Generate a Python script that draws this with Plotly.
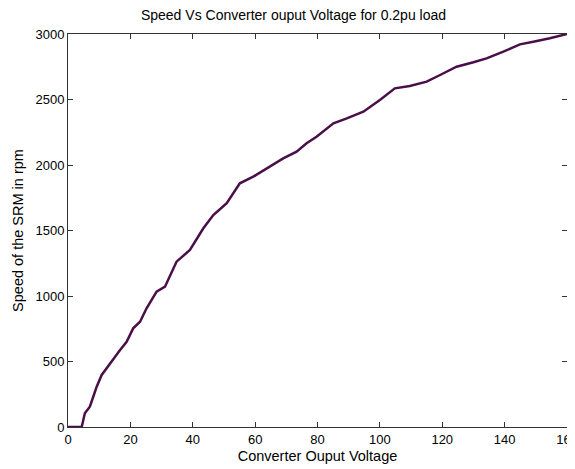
import plotly.graph_objects as go

voltage = [0, 4.4, 5.4, 7.0, 8.1, 9.2, 10.8, 12.4, 14.5, 16.7, 18.8, 20.9, 23.1, 25.2, 28.4, 31.1,
           34.8, 39.1, 43.4, 46.6, 50.9, 55.1, 59.4, 63.7, 69.0, 73.3, 76.5, 79.7, 85.1, 89.4,
           94.7, 100.0, 104.8, 109.6, 115.0, 119.3, 124.6, 130.0, 134.2, 139.6, 144.9, 149.2,
           154.5, 160]
speed = [0, 0, 105, 155, 231, 308, 397, 448, 524, 588, 651, 753, 804, 906, 1033, 1071,
         1262, 1351, 1517, 1618, 1708, 1860, 1911, 1975, 2051, 2102, 2166, 2216, 2318, 2356,
         2407, 2496, 2585, 2603, 2636, 2687, 2750, 2784, 2814, 2865, 2921, 2941,
         2967, 3000]

x_ticks = [0, 20, 40, 60, 80, 100, 120, 140, 160]
y_ticks = [0, 500, 1000, 1500, 2000, 2500, 3000]

# The page body keeps its default 8px margin, so the figure is sized to fit the window.
W, H = 567, 461

fig = go.Figure(go.Scatter(x=voltage, y=speed, mode="lines",
                           line=dict(color="#4a0f48", width=2.5)))

font = dict(family="Liberation Sans, Arial, sans-serif", size=13, color="#000000")
fig.update_layout(
    width=W, height=H,
    margin=dict(l=60, r=8, t=26, b=42, autoexpand=False),
    paper_bgcolor="white", plot_bgcolor="white",
    showlegend=False,
    font=font,
    title=dict(text="Speed Vs Converter ouput Voltage for 0.2pu load", x=0.5035, xanchor="center",
               y=1 - 7.5 / H, yanchor="middle", font=dict(size=14), automargin=False),
    xaxis=dict(range=[0, 160], tickvals=x_ticks, ticktext=[str(v) for v in x_ticks],
               showgrid=False, zeroline=False, showline=True, linecolor="#333333", linewidth=1,
               mirror="ticks", ticks="inside", ticklen=5, tickcolor="#333333",
               automargin=False, ticklabeloverflow="allow",
               title=dict(text="Converter Ouput Voltage", standoff=5, font=dict(size=14.5))),
    yaxis=dict(range=[0, 3000], tickvals=y_ticks, ticktext=[str(v) for v in y_ticks],
               showgrid=False, zeroline=False, showline=True, linecolor="#333333", linewidth=1,
               mirror="ticks", ticks="inside", ticklen=5, tickcolor="#333333",
               automargin=False, ticklabeloverflow="allow",
               title=dict(text="Speed of the SRM in rpm", standoff=8, font=dict(size=14.5))),
)

fig.write_html("out.html")
